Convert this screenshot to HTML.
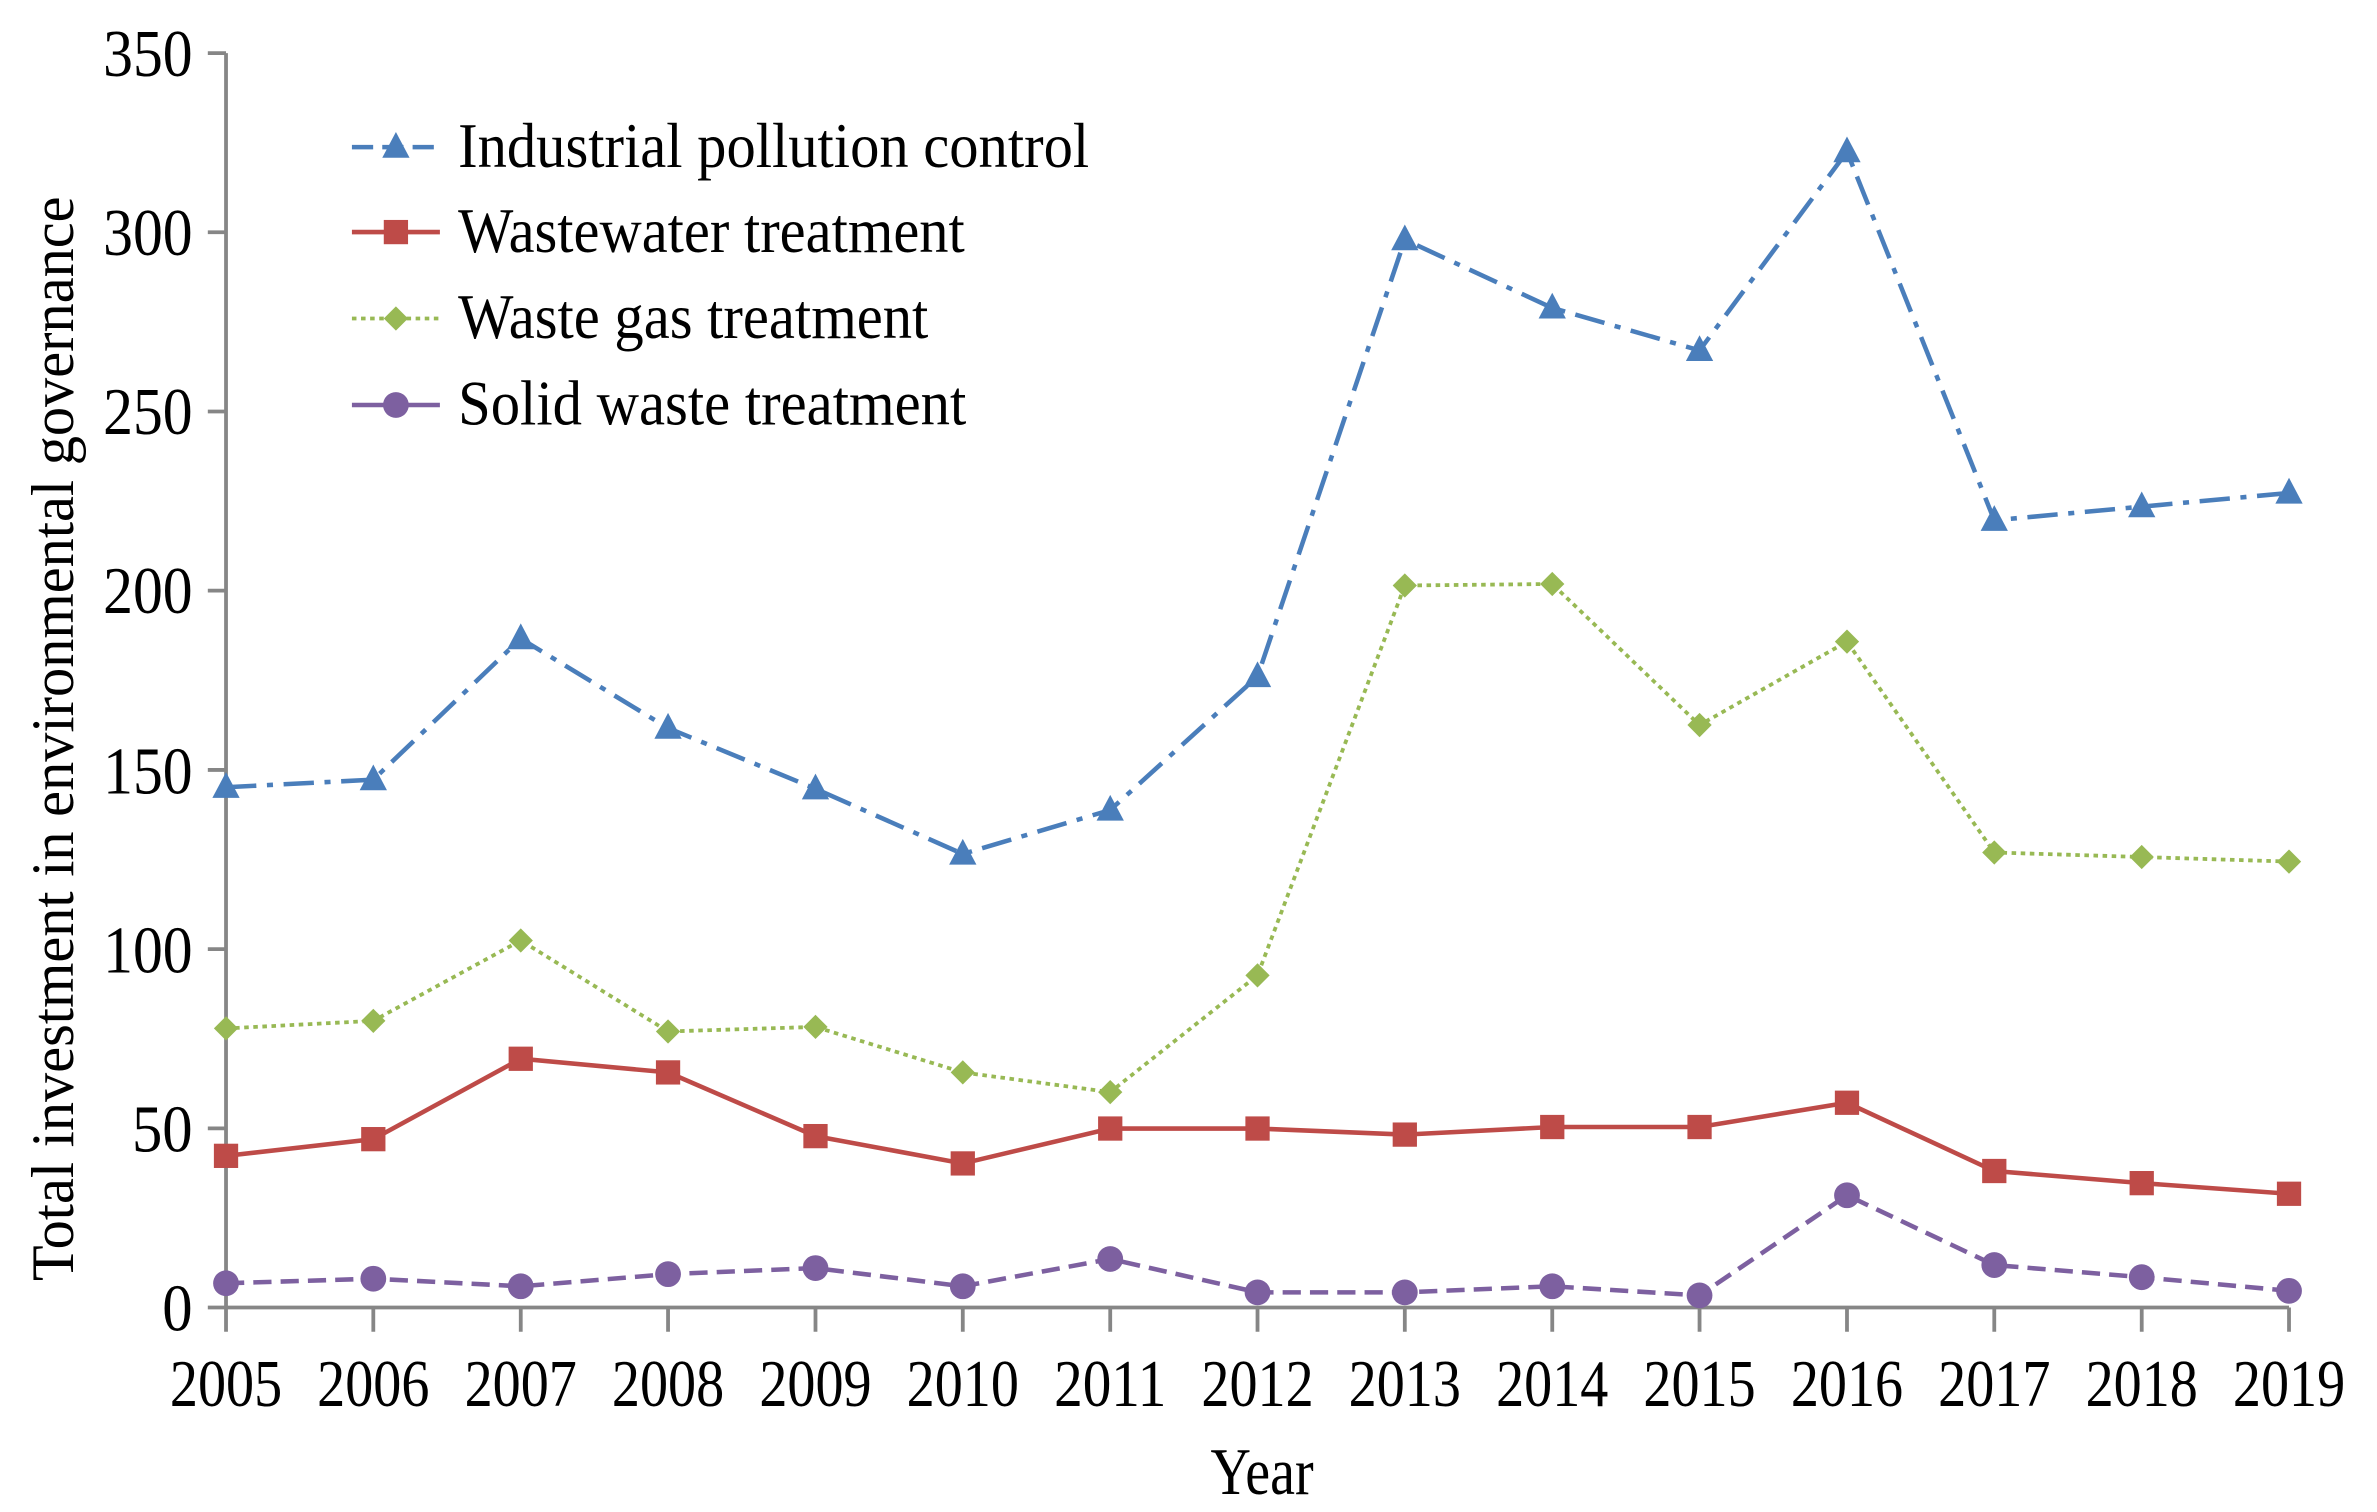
<!DOCTYPE html>
<html><head><style>html,body{margin:0;padding:0;background:#fff;}svg{display:block;}</style></head>
<body>
<svg width="2377" height="1512" viewBox="0 0 1567 996.8" preserveAspectRatio="none" xmlns="http://www.w3.org/2000/svg" font-family="'Liberation Serif', serif">
<rect width="1567" height="996.8" fill="#fff"/>
<g stroke="#868686" stroke-width="2.5" fill="none">
<line x1="149" y1="35" x2="149" y2="862"/>
<line x1="137" y1="862" x2="1509" y2="862"/>
<path d="M137 35H149M137 153.1H149M137 271.3H149M137 389.4H149M137 507.6H149M137 625.7H149M137 743.9H149"/>
<path d="M149 862V878M246.1 862V878M343.3 862V878M440.4 862V878M537.6 862V878M634.7 862V878M731.9 862V878M829 862V878M926.1 862V878M1023.3 862V878M1120.4 862V878M1217.6 862V878M1314.7 862V878M1411.9 862V878M1509 862V878"/>
</g>
<g font-size="44" text-anchor="end" fill="#000">
<text x="127" y="50" textLength="59" lengthAdjust="spacingAndGlyphs">350</text><text x="127" y="168" textLength="59" lengthAdjust="spacingAndGlyphs">300</text><text x="127" y="286" textLength="59" lengthAdjust="spacingAndGlyphs">250</text><text x="127" y="404" textLength="59" lengthAdjust="spacingAndGlyphs">200</text><text x="127" y="523" textLength="59" lengthAdjust="spacingAndGlyphs">150</text><text x="127" y="641" textLength="59" lengthAdjust="spacingAndGlyphs">100</text><text x="127" y="759" textLength="40" lengthAdjust="spacingAndGlyphs">50</text><text x="127" y="877" textLength="20" lengthAdjust="spacingAndGlyphs">0</text>
</g>
<g font-size="44" text-anchor="middle" fill="#000">
<text x="149" y="927" textLength="74" lengthAdjust="spacingAndGlyphs">2005</text><text x="246.1" y="927" textLength="74" lengthAdjust="spacingAndGlyphs">2006</text><text x="343.3" y="927" textLength="74" lengthAdjust="spacingAndGlyphs">2007</text><text x="440.4" y="927" textLength="74" lengthAdjust="spacingAndGlyphs">2008</text><text x="537.6" y="927" textLength="74" lengthAdjust="spacingAndGlyphs">2009</text><text x="634.7" y="927" textLength="74" lengthAdjust="spacingAndGlyphs">2010</text><text x="731.9" y="927" textLength="74" lengthAdjust="spacingAndGlyphs">2011</text><text x="829" y="927" textLength="74" lengthAdjust="spacingAndGlyphs">2012</text><text x="926.1" y="927" textLength="74" lengthAdjust="spacingAndGlyphs">2013</text><text x="1023.3" y="927" textLength="74" lengthAdjust="spacingAndGlyphs">2014</text><text x="1120.4" y="927" textLength="74" lengthAdjust="spacingAndGlyphs">2015</text><text x="1217.6" y="927" textLength="74" lengthAdjust="spacingAndGlyphs">2016</text><text x="1314.7" y="927" textLength="74" lengthAdjust="spacingAndGlyphs">2017</text><text x="1411.9" y="927" textLength="74" lengthAdjust="spacingAndGlyphs">2018</text><text x="1509" y="927" textLength="74" lengthAdjust="spacingAndGlyphs">2019</text>
<text x="832" y="985" textLength="68" lengthAdjust="spacingAndGlyphs">Year</text>
<text transform="translate(48,487) rotate(-90)" font-size="40" textLength="715" lengthAdjust="spacingAndGlyphs">Total investment in environmental governance</text>
</g>
<polyline fill="none" stroke="#4a7ebb" stroke-width="3" stroke-dasharray="20,7,4,7" points="149,519 246.1,514 343.3,421 440.4,480 537.6,520 634.7,563 731.9,534 829,446 926.1,158 1023.3,203 1120.4,231 1217.6,100 1314.7,343 1411.9,334 1509,325"/>
<g fill="#4a7ebb">
<path d="M0 -10L9 7H-9Z" transform="translate(149,519)"/>
<path d="M0 -10L9 7H-9Z" transform="translate(246.1,514)"/><path d="M0 -10L9 7H-9Z" transform="translate(343.3,421)"/><path d="M0 -10L9 7H-9Z" transform="translate(440.4,480)"/><path d="M0 -10L9 7H-9Z" transform="translate(537.6,520)"/><path d="M0 -10L9 7H-9Z" transform="translate(634.7,563)"/><path d="M0 -10L9 7H-9Z" transform="translate(731.9,534)"/><path d="M0 -10L9 7H-9Z" transform="translate(829,446)"/><path d="M0 -10L9 7H-9Z" transform="translate(926.1,158)"/><path d="M0 -10L9 7H-9Z" transform="translate(1023.3,203)"/><path d="M0 -10L9 7H-9Z" transform="translate(1120.4,231)"/><path d="M0 -10L9 7H-9Z" transform="translate(1217.6,100)"/><path d="M0 -10L9 7H-9Z" transform="translate(1314.7,343)"/><path d="M0 -10L9 7H-9Z" transform="translate(1411.9,334)"/><path d="M0 -10L9 7H-9Z" transform="translate(1509,325)"/>
</g>
<polyline fill="none" stroke="#be4b48" stroke-width="3" points="149,762 246.1,751 343.3,698 440.4,707 537.6,749 634.7,767 731.9,744 829,744 926.1,748 1023.3,743 1120.4,743 1217.6,727 1314.7,772 1411.9,780 1509,787"/>
<g fill="#be4b48">
<rect x="141" y="754" width="16" height="16"/><rect x="238.1" y="743" width="16" height="16"/><rect x="335.3" y="690" width="16" height="16"/><rect x="432.4" y="699" width="16" height="16"/><rect x="529.6" y="741" width="16" height="16"/><rect x="626.7" y="759" width="16" height="16"/><rect x="723.9" y="736" width="16" height="16"/><rect x="821" y="736" width="16" height="16"/><rect x="918.1" y="740" width="16" height="16"/><rect x="1015.3" y="735" width="16" height="16"/><rect x="1112.4" y="735" width="16" height="16"/><rect x="1209.6" y="719" width="16" height="16"/><rect x="1306.7" y="764" width="16" height="16"/><rect x="1403.9" y="772" width="16" height="16"/><rect x="1501" y="779" width="16" height="16"/>
</g>
<polyline fill="none" stroke="#98b954" stroke-width="2.5" stroke-dasharray="3,3" points="149,678 246.1,673 343.3,620 440.4,680 537.6,677 634.7,707 731.9,720 829,643 926.1,386 1023.3,385 1120.4,478 1217.6,423 1314.7,562 1411.9,565 1509,568"/>
<g fill="#98b954">
<path d="M149 670l8 8-8 8-8-8z"/><path d="M246.1 665l8 8-8 8-8-8z"/><path d="M343.3 612l8 8-8 8-8-8z"/><path d="M440.4 672l8 8-8 8-8-8z"/><path d="M537.6 669l8 8-8 8-8-8z"/><path d="M634.7 699l8 8-8 8-8-8z"/><path d="M731.9 712l8 8-8 8-8-8z"/><path d="M829 635l8 8-8 8-8-8z"/><path d="M926.1 378l8 8-8 8-8-8z"/><path d="M1023.3 377l8 8-8 8-8-8z"/><path d="M1120.4 470l8 8-8 8-8-8z"/><path d="M1217.6 415l8 8-8 8-8-8z"/><path d="M1314.7 554l8 8-8 8-8-8z"/><path d="M1411.9 557l8 8-8 8-8-8z"/><path d="M1509 560l8 8-8 8-8-8z"/>
</g>
<polyline fill="none" stroke="#7d60a0" stroke-width="3" stroke-dasharray="12,6" points="149,846 246.1,843 343.3,848 440.4,840 537.6,836 634.7,848 731.9,830 829,852 926.1,852 1023.3,848 1120.4,854 1217.6,788 1314.7,834 1411.9,842 1509,851"/>
<g fill="#7d60a0">
<circle cx="149" cy="846" r="8.5"/><circle cx="246.1" cy="843" r="8.5"/><circle cx="343.3" cy="848" r="8.5"/><circle cx="440.4" cy="840" r="8.5"/><circle cx="537.6" cy="836" r="8.5"/><circle cx="634.7" cy="848" r="8.5"/><circle cx="731.9" cy="830" r="8.5"/><circle cx="829" cy="852" r="8.5"/><circle cx="926.1" cy="852" r="8.5"/><circle cx="1023.3" cy="848" r="8.5"/><circle cx="1120.4" cy="854" r="8.5"/><circle cx="1217.6" cy="788" r="8.5"/><circle cx="1314.7" cy="834" r="8.5"/><circle cx="1411.9" cy="842" r="8.5"/><circle cx="1509" cy="851" r="8.5"/>
</g>
<line x1="232" y1="97" x2="290" y2="97" stroke="#4a7ebb" stroke-width="3" stroke-dasharray="14,6"/>
<path d="M261 87L270 104H252Z" fill="#4a7ebb"/>
<line x1="232" y1="153" x2="290" y2="153" stroke="#be4b48" stroke-width="3"/>
<rect x="253" y="145" width="16" height="16" fill="#be4b48"/>
<line x1="232" y1="210" x2="290" y2="210" stroke="#98b954" stroke-width="2.5" stroke-dasharray="3,3"/>
<path d="M261 202l8 8-8 8-8-8z" fill="#98b954"/>
<line x1="232" y1="267" x2="290" y2="267" stroke="#7d60a0" stroke-width="3"/>
<circle cx="261" cy="267" r="8.5" fill="#7d60a0"/>
<g font-size="42" fill="#000">
<text x="302" y="110" textLength="416" lengthAdjust="spacingAndGlyphs">Industrial pollution control</text>
<text x="302" y="166" textLength="334" lengthAdjust="spacingAndGlyphs">Wastewater treatment</text>
<text x="302" y="223" textLength="310" lengthAdjust="spacingAndGlyphs">Waste gas treatment</text>
<text x="302" y="280" textLength="335" lengthAdjust="spacingAndGlyphs">Solid waste treatment</text>
</g>
</svg>
</body></html>
